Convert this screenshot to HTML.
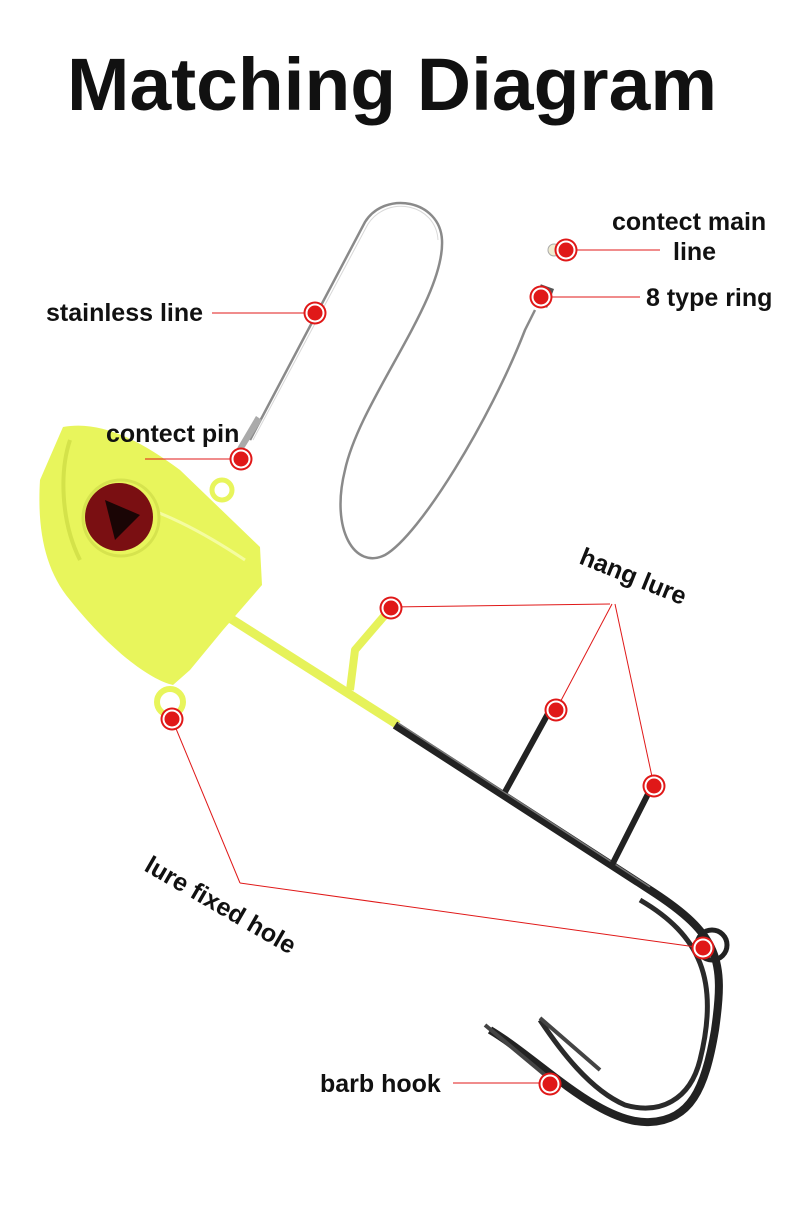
<!DOCTYPE html>
<html><head><style>
html,body{margin:0;padding:0;background:#fff;}
svg{display:block;}
text{font-family:"Liberation Sans",sans-serif;font-weight:bold;fill:#111;}
</style></head><body>
<svg width="790" height="1216" viewBox="0 0 790 1216" xmlns="http://www.w3.org/2000/svg">
<defs>
<g id="dot"><circle r="11.5" fill="#e01818"/><circle r="9.5" fill="#fff"/><circle r="7.5" fill="#e01818"/></g>
</defs>
<text x="392" y="110" font-size="74" text-anchor="middle" textLength="650" lengthAdjust="spacingAndGlyphs">Matching Diagram</text>

<!-- stainless wire loop -->
<path d="M250 440 L365 222 C385 190 440 200 442 240 C445 300 360 400 345 470 C330 530 355 570 385 555 C420 535 490 420 525 330 L535 310" fill="none" stroke="#8a8a8a" stroke-width="2.5"/>
<path d="M253 440 L368 224 C388 194 436 204 438 240" fill="none" stroke="#d8d8d8" stroke-width="1"/>
<path d="M240 455 L262 420 L256 416 L236 450 Z" fill="#aaa"/>
<rect x="537" y="286" width="14" height="20" fill="#555" transform="rotate(20 544 296)"/>
<circle cx="554" cy="250" r="6" fill="#f0ecd0" stroke="#aaa"/>

<!-- shaft -->
<path d="M225 615 L398 725" stroke="#e6f25a" stroke-width="9" fill="none"/>
<path d="M350 690 L355 650 L385 615" stroke="#e6f25a" stroke-width="8" fill="none" stroke-linejoin="round"/>
<!-- hook black -->
<path d="M395 725 L650 890 C720 935 725 960 715 1030 C705 1090 690 1120 650 1122 C600 1125 540 1060 490 1030" stroke="#222" stroke-width="8" fill="none"/>
<path d="M640 900 C700 935 720 980 700 1060 C690 1100 660 1115 625 1105 C590 1090 560 1050 540 1020" stroke="#2a2a2a" stroke-width="5" fill="none"/>
<path d="M398 723 L650 887" stroke="#777" stroke-width="1.5" fill="none"/>
<path d="M505 792 L550 710 M612 865 L650 790" stroke="#222" stroke-width="6" fill="none"/>
<circle cx="712" cy="945" r="15" fill="none" stroke="#222" stroke-width="5"/>
<path d="M485 1025 L545 1075 M540 1018 L600 1070" stroke="#444" stroke-width="4" fill="none"/>

<!-- head -->
<path d="M63 427 C100 420 140 440 180 470 L260 547 L262 585 L223 630 L190 670 L173 685 C150 680 110 650 70 600 C45 570 37 530 40 480 Z" fill="#e8f55c"/>
<path d="M70 440 C60 470 60 520 80 560" stroke="#d4e24a" stroke-width="4" fill="none"/>
<path d="M120 500 C160 510 200 530 245 560" stroke="#f4fca0" stroke-width="3" fill="none"/>
<circle cx="121" cy="518" r="38" fill="#e8f55c" stroke="#d6e34e" stroke-width="3"/>
<circle cx="119" cy="517" r="34" fill="#7a0f12"/>
<path d="M105 500 L140 515 L115 540 Z" fill="#1a0505"/>
<circle cx="222" cy="490" r="10" fill="none" stroke="#e8f55c" stroke-width="5"/>
<circle cx="170" cy="702" r="13" fill="none" stroke="#e8f55c" stroke-width="6"/>

<!-- leader lines -->
<g stroke="#e01818" stroke-width="1" fill="none">
<line x1="212" y1="313" x2="315" y2="313"/>
<line x1="145" y1="459" x2="240" y2="459"/>
<line x1="566" y1="250" x2="660" y2="250"/>
<line x1="541" y1="297" x2="640" y2="297"/>
<line x1="391" y1="607" x2="610" y2="604"/>
<line x1="556" y1="710" x2="612" y2="604"/>
<line x1="654" y1="786" x2="615" y2="604"/>
<line x1="172" y1="719" x2="240" y2="883"/>
<line x1="240" y1="883" x2="703" y2="948"/>
<line x1="453" y1="1083" x2="550" y2="1083"/>
</g>
<use href="#dot" x="315" y="313"/>
<use href="#dot" x="241" y="459"/>
<use href="#dot" x="566" y="250"/>
<use href="#dot" x="541" y="297"/>
<use href="#dot" x="391" y="608"/>
<use href="#dot" x="556" y="710"/>
<use href="#dot" x="654" y="786"/>
<use href="#dot" x="172" y="719"/>
<use href="#dot" x="703" y="948"/>
<use href="#dot" x="550" y="1084"/>

<g font-size="25">
<text x="46" y="321">stainless line</text>
<text x="106" y="442">contect pin</text>
<text x="612" y="230">contect main</text>
<text x="673" y="260">line</text>
<text x="646" y="306">8 type ring</text>
<text x="320" y="1092">barb hook</text>
<text transform="translate(578 563) rotate(22)">hang lure</text>
<text transform="translate(143 870) rotate(30)">lure fixed hole</text>
</g>
</svg>
</body></html>
